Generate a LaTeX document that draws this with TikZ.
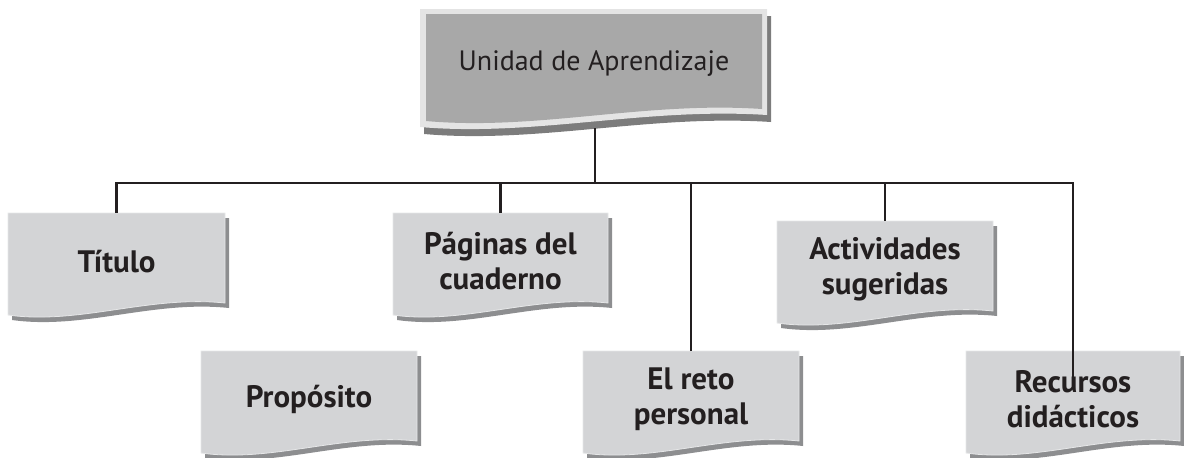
\documentclass[tikz,border=0pt]{standalone}
\usepackage{fontspec}
\setmainfont{PT Sans}
\definecolor{boxfill}{HTML}{D3D4D6}
\definecolor{boxedge}{HTML}{E6E7E8}
\definecolor{shadowc}{HTML}{8D8E90}
\definecolor{topfill}{HTML}{A8A8A8}
\definecolor{toplight}{HTML}{E4E4E4}
\definecolor{topshadow}{HTML}{7C7C7C}
\definecolor{txt}{HTML}{231F20}
\newcommand\wshape[4]{(#1,#2) -- (#3,#2) -- (#3,{#4-12}) .. controls ({#3-0.35*(#3-#1)},{#4-20}) and ({#1+0.33*(#3-#1)},{#4+10}) .. (#1,#4) -- cycle}
\newcommand\smallbox[6]{%
  \fill[shadowc, shift={(4,5)}] \wshape{#2}{#3}{#4}{#5};
  \filldraw[fill=boxfill, draw=boxedge, line width=0.8pt] \wshape{#2}{#3}{#4}{#5};
  \node[lbl, anchor=north, minimum width={(#4-#2)*1pt}, minimum height={(#5-6-#3)*1pt}] (#1) at ({(#2+#4)/2},#3) {#6};
}
\begin{document}
\begin{tikzpicture}[x=1pt,y=-1pt,
  conn/.style={line width=2.6pt, txt},
  lbl/.style={font=\bfseries\fontsize{31}{35}\selectfont, align=center, inner sep=0pt, text=txt}]
\useasboundingbox (0,0) rectangle (1184,458);
% top box
\fill[topshadow, shift={(4,7)}] \wshape{420}{9}{767}{127};
\fill[toplight] \wshape{420}{9}{767}{127};
\fill[topfill] \wshape{426}{14}{762}{121};
\node[font=\fontsize{28}{32}\selectfont, text=txt, inner sep=0pt, anchor=north, minimum width=347pt, minimum height=108pt] (unidad) at (594,9) {Unidad de Aprendizaje};
\coordinate (stem) at (595,128);
\coordinate (bus) at (0,183);
% boxes
\smallbox{titulo}{8}{213}{225}{315}{Título}
\smallbox{paginas}{393}{213}{608}{315}{Páginas del\\cuaderno}
\smallbox{actividades}{777}{221}{993}{323}{Actividades\\sugeridas}
\smallbox{proposito}{201}{351}{417}{453}{Propósito}
\smallbox{reto}{583}{351}{799}{453}{El reto\\personal}
\smallbox{recursos}{966}{351}{1180}{453}{Recursos\\didácticos}
% connectors
\draw[conn] (stem) -- (stem |- bus);
\draw[conn] (titulo.north) -- (titulo.north |- bus) -- (recursos.north |- bus) -- ([yshift=-29pt]recursos.north);
\draw[conn] (paginas.north) -- (paginas.north |- bus);
\draw[conn] (actividades.north) -- (actividades.north |- bus);
\draw[conn] (reto.north) -- (reto.north |- bus);
\end{tikzpicture}
\end{document}
